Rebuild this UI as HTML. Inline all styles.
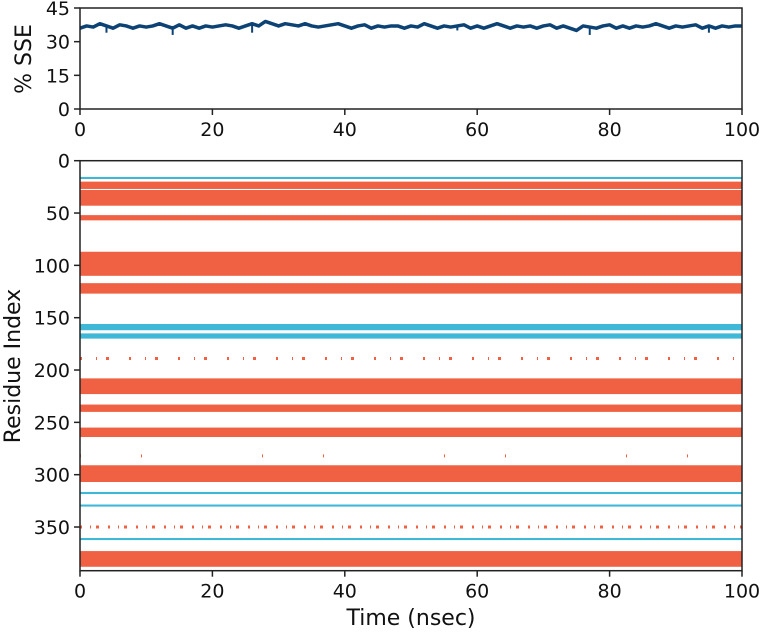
<!DOCTYPE html>
<html><head><meta charset="utf-8"><style>
body{margin:0;background:#fff}
svg{display:block;font-family:"DejaVu Sans","Liberation Sans",sans-serif}
</style></head><body>
<svg id="c" width="762" height="632"></svg>
<script>
const sseValues=[36,37,36.5,38,37,36,37.5,37,36,37,36.5,37,38,37,36,37.5,36,37,36,37,36.5,37,37.5,37,36,37,38,37,39,38,37,38,37.5,37,38,37,36.5,37,37.5,38,37,36,37,37.5,36,37,36.5,37,37,36,37,36.5,38,37,36,37,36.5,37,37.5,36,37,36,37,38,37,36,37,36.5,37,36,37,37.5,36,37,36,35,37,36.5,36,37,37.5,36,37,36,37,36.5,37,38,37,36,37,36.5,37,37.5,36,37,36,37,36.5,37,37];
const sseDips=[[4,34],[14,33],[26,34],[57,35],[77,33],[95,34]];
const xTicks=[0,20,40,60,80,100];
const sseTicks=[0,15,30,45];
const resTicks=[0,50,100,150,200,250,300,350];
const bandStart=[15.5,20,28,52,87,117,156,165,208,233,255,291,316.5,328.5,360.5,373];
const bandEnd=[17.5,27,43,57,110,127,162,170,223,240,264,307,318.5,330.5,362.5,388];
const bandType=['h','e','e','e','e','e','h','h','e','e','e','e','h','h','h','e'];
const sparseRes=[189,282,350];
const sparseType=['e','e','e'];
const X0=80,X1=742;
const xs=v=>X0+v/100*(X1-X0);
const ys=v=>109-v/45*101;
const yr=v=>160.7+v*1.0466;
const svg=document.getElementById('c');
const NS='http://www.w3.org/2000/svg';
function mk(t,a,p){const e=document.createElementNS(NS,t);for(const k in a)e.setAttribute(k,a[k]);(p||svg).appendChild(e);return e;}
const col={e:'#f06043',h:'#3fb8d8'};
bandStart.forEach((s,i)=>{
 const r=mk('rect',{x:X0,y:yr(s),width:X1-X0,height:yr(bandEnd[i])-yr(s),fill:col[bandType[i]]});
 
 
});
const dashes=['2 14 1 9 3 20','1 60 1 120','2 8 1 5 3 9'];
sparseRes.forEach((s,i)=>{
 const l=mk('line',{x1:X0,x2:X1,y1:yr(s),y2:yr(s),stroke:col[sparseType[i]],'stroke-width':3,'stroke-dasharray':dashes[i]});
 
 
});
let pts=sseValues.map((v,i)=>xs(i*100/(sseValues.length-1))+','+ys(v));
const pl=mk('polyline',{points:pts.join(' '),fill:'none',stroke:'#0d4274','stroke-width':3.5,'stroke-linejoin':'round'});


sseDips.forEach((d,i)=>{const xx=xs(d[0]*100/(sseValues.length-1));const l=mk('line',{x1:xx,x2:xx,y1:ys(37),y2:ys(d[1]),stroke:'#0d4274','stroke-width':2});
 
 });
function frame(y0,y1,name){const r=mk('rect',{x:X0,y:y0,width:X1-X0,height:y1-y0,fill:'none',stroke:'#222','stroke-width':1.5});
 }
frame(8,109,'top-axes');frame(160.7,570.7,'bottom-axes');
function txt(x,y,s,a,sz,name,rot){const t=mk('text',{x:x,y:y,'text-anchor':a,'font-size':sz,fill:'#111'});t.textContent=s;
 if(rot)t.setAttribute('transform','rotate(-90 '+x+' '+y+')');
 }
xTicks.forEach(v=>{[109,570.7].forEach((yy,j)=>{mk('line',{x1:xs(v),x2:xs(v),y1:yy,y2:yy+6,stroke:'#222','stroke-width':1.5});
 txt(xs(v),yy+27,String(v),'middle',19,j?'bottom-x-tick':'top-x-tick');});});
sseTicks.forEach(v=>{mk('line',{x1:X0-6,x2:X0,y1:ys(v),y2:ys(v),stroke:'#222','stroke-width':1.5});txt(X0-10,ys(v)+7,String(v),'end',19,'sse-tick');});
resTicks.forEach(v=>{mk('line',{x1:X0-6,x2:X0,y1:yr(v),y2:yr(v),stroke:'#222','stroke-width':1.5});txt(X0-10,yr(v)+7,String(v),'end',19,'residue-tick');});
txt(31,59,'% SSE','middle',22,'y-axis-title-sse',true);
txt(20,366,'Residue Index','middle',22,'y-axis-title-residue',true);
txt(411,625,'Time (nsec)','middle',22,'x-axis-title',false);
</script>
</body></html>
